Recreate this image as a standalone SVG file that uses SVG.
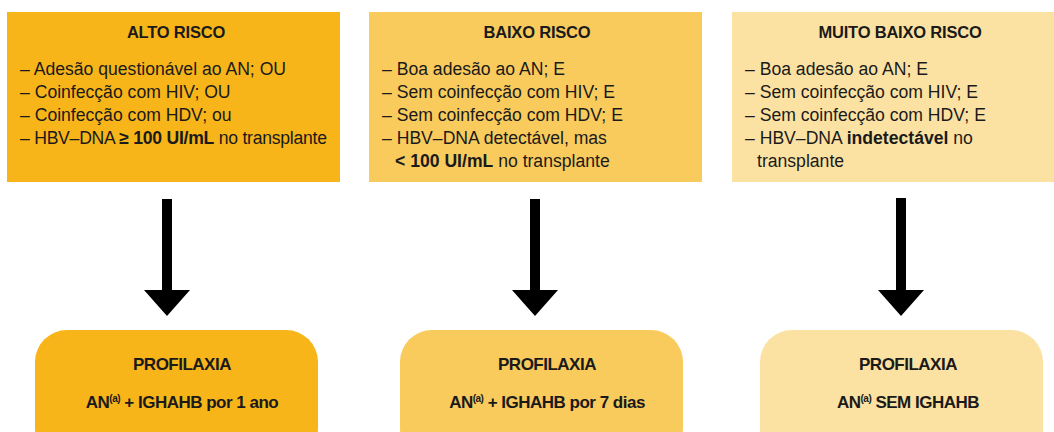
<svg xmlns="http://www.w3.org/2000/svg" width="1054" height="432" viewBox="0 0 1054 432">
<style>
.c1{fill:#F7B51A}.c2{fill:#F9CB5D}.c3{fill:#FCE2A2}
text{font-family:"Liberation Sans",Arial,sans-serif;fill:#1a1a1a}
.h{font-size:16.5px;font-weight:bold;text-anchor:middle;letter-spacing:-0.2px}
.b{font-size:17.6px}
.t{letter-spacing:-0.25px}
.p{font-size:17px;font-weight:bold;text-anchor:middle;letter-spacing:-0.5px}
.s{font-size:10px}
.arrow{fill:#000}
</style>
<rect width="1054" height="432" fill="#fff"/>
<g id="alto-risco">
<rect class="c1" x="7" y="12" width="333" height="170"/>
<text class="h" x="176" y="38">ALTO RISCO</text>
<text class="b" x="20" y="75">– Adesão questionável ao AN; OU</text>
<text class="b" x="20" y="98">– Coinfecção com HIV; OU</text>
<text class="b" x="20" y="121">– Coinfecção com HDV; ou</text>
<text class="b t" x="20" y="144">– HBV–DNA <tspan font-weight="bold">≥ 100 UI/mL</tspan> no transplante</text>
</g>
<g id="baixo-risco">
<rect class="c2" x="369" y="12" width="333" height="170"/>
<text class="h" x="537" y="38">BAIXO RISCO</text>
<text class="b" x="382" y="75">– Boa adesão ao AN; E</text>
<text class="b" x="382" y="98">– Sem coinfecção com HIV; E</text>
<text class="b" x="382" y="121">– Sem coinfecção com HDV; E</text>
<text class="b" x="382" y="144">– HBV–DNA detectável, mas</text>
<text class="b" x="395" y="167"><tspan font-weight="bold">&lt; 100 UI/mL</tspan> no transplante</text>
</g>
<g id="muito-baixo-risco">
<rect class="c3" x="732" y="12" width="322" height="170"/>
<text class="h" x="900" y="38">MUITO BAIXO RISCO</text>
<text class="b" x="745" y="75">– Boa adesão ao AN; E</text>
<text class="b" x="745" y="98">– Sem coinfecção com HIV; E</text>
<text class="b" x="745" y="121">– Sem coinfecção com HDV; E</text>
<text class="b" x="745" y="144">– HBV–DNA <tspan font-weight="bold">indetectável</tspan> no</text>
<text class="b" x="757" y="167">transplante</text>
</g>
<g id="connectors">
<path class="arrow" d="M162,199 H172 V290 H190 L167,316 L144,290 H162 Z"/>
<path class="arrow" d="M530,199 H540 V290 H558 L535,316 L512,290 H530 Z"/>
<path class="arrow" d="M896,198 H906 V290 H924 L901,316 L878,290 H896 Z"/>
</g>
<g id="profilaxia-1">
<rect class="c1" x="35" y="330" width="283" height="130" rx="32"/>
<text class="p" x="182" y="370">PROFILAXIA</text>
<text class="p" x="182" y="408">AN<tspan class="s" dy="-6">(a)</tspan><tspan dy="6"> + IGHAHB por 1 ano</tspan></text>
</g>
<g id="profilaxia-2">
<rect class="c2" x="400" y="330" width="283" height="130" rx="32"/>
<text class="p" x="547" y="370">PROFILAXIA</text>
<text class="p" x="547" y="408">AN<tspan class="s" dy="-6">(a)</tspan><tspan dy="6"> + IGHAHB por 7 dias</tspan></text>
</g>
<g id="profilaxia-3">
<rect class="c3" x="760" y="330" width="283" height="130" rx="32"/>
<text class="p" x="908" y="370">PROFILAXIA</text>
<text class="p" x="908" y="408">AN<tspan class="s" dy="-6">(a)</tspan><tspan dy="6"> SEM IGHAHB</tspan></text>
</g>
</svg>
